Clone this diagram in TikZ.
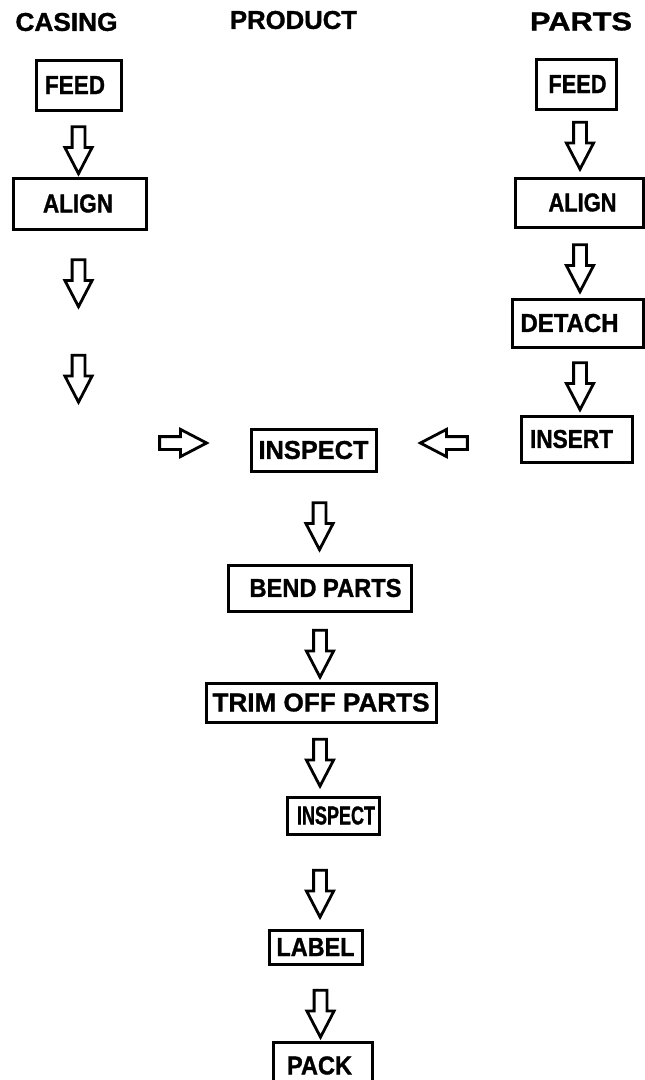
\documentclass[tikz,border=0pt]{standalone}
\usepackage{fontspec}
\usepackage{graphicx}
\setmainfont{Liberation Sans}
\newfontfamily\heavyfont{Liberation Sans Bold}[FakeBold=1.2]
\newcommand\bt[3]{\hspace*{#2}\resizebox{#1}{18pt}{\heavyfont #3}}
\usetikzlibrary{shapes.arrows}
\begin{document}
\begin{tikzpicture}[x=1pt,y=-1pt,
  box/.style={draw, line width=3pt, inner sep=0pt},
  title/.style={inner sep=0pt},
  blockarrow/.style={single arrow, draw, line width=2.8pt, inner xsep=0pt, inner ysep=5pt,
    single arrow head extend=7.25pt, single arrow tip angle=55, single arrow head indent=0pt,
    minimum height=47pt},
  downarrow/.style={blockarrow, rotate=-90},
  leftarrow/.style={blockarrow, rotate=180},
  rightarrow/.style={blockarrow}
]
\useasboundingbox (0,0) rectangle (645,1080);
\clip (0,0) rectangle (645,1080);

% titles
\node[title] (tcasing) at (66.5,22) {\bt{102pt}{0pt}{CASING}};
\node[title] (tproduct) at (293.5,20) {\bt{127pt}{0pt}{PRODUCT}};
\node[title] (tparts) at (581,21.5) {\bt{102pt}{0pt}{PARTS}};

% casing column
\node[box, minimum width=85pt, minimum height=50pt] (cfeed) at (78.5,85) {\bt{60pt}{-7pt}{FEED}};
\node[downarrow] (ca1) at (78.5,144) {};
\node[box, minimum width=133pt, minimum height=51pt] (calign) at (79.5,203.5) {\bt{70pt}{-3pt}{ALIGN}};
\node[downarrow] (ca2) at (78.5,277) {};
\node[downarrow] (ca3) at (78.5,372.5) {};
\node[rightarrow] (ca4) at (177,443) {};

% parts column
\node[box, minimum width=80pt, minimum height=50pt] (pfeed) at (576,84) {\bt{58pt}{3pt}{FEED}};
\node[downarrow] (pa1) at (580,139.5) {};
\node[box, minimum width=128pt, minimum height=49pt] (palign) at (579,202.5) {\bt{68pt}{7pt}{ALIGN}};
\node[downarrow] (pa2) at (580,262) {};
\node[box, minimum width=131pt, minimum height=48pt] (pdetach) at (577.5,323) {\bt{98pt}{-16pt}{DETACH}};
\node[downarrow] (pa3) at (580,380) {};
\node[box, minimum width=111pt, minimum height=46pt] (pinsert) at (576.5,439) {\bt{83pt}{-10pt}{INSERT}};
\node[leftarrow] (pa4) at (450,443) {};

% product column
\node[box, minimum width=125pt, minimum height=42pt] (inspect1) at (313.5,450) {\bt{110pt}{0pt}{INSPECT}};
\node[downarrow] (ra1) at (319.5,520) {};
\node[box, minimum width=183pt, minimum height=46pt] (bend) at (319.5,588) {\bt{152pt}{12pt}{BEND PARTS}};
\node[downarrow] (ra2) at (320,647.5) {};
\node[box, minimum width=230pt, minimum height=39pt] (trim) at (321,702.5) {\bt{217pt}{0pt}{TRIM OFF PARTS}};
\node[downarrow] (ra3) at (320,756.5) {};
\node[box, minimum width=92pt, minimum height=37pt] (inspect2) at (333,815.5) {\bt{78pt}{6pt}{INSPECT}};
\node[downarrow] (ra4) at (320,887.5) {};
\node[box, minimum width=93pt, minimum height=34pt] (label) at (315.5,947) {\bt{78pt}{0pt}{LABEL}};
\node[downarrow] (ra5) at (320.5,1007.5) {};
\node[box, minimum width=99pt, minimum height=47pt] (pack) at (322.5,1065.5) {\bt{65pt}{-6pt}{PACK}};
\end{tikzpicture}
\end{document}
